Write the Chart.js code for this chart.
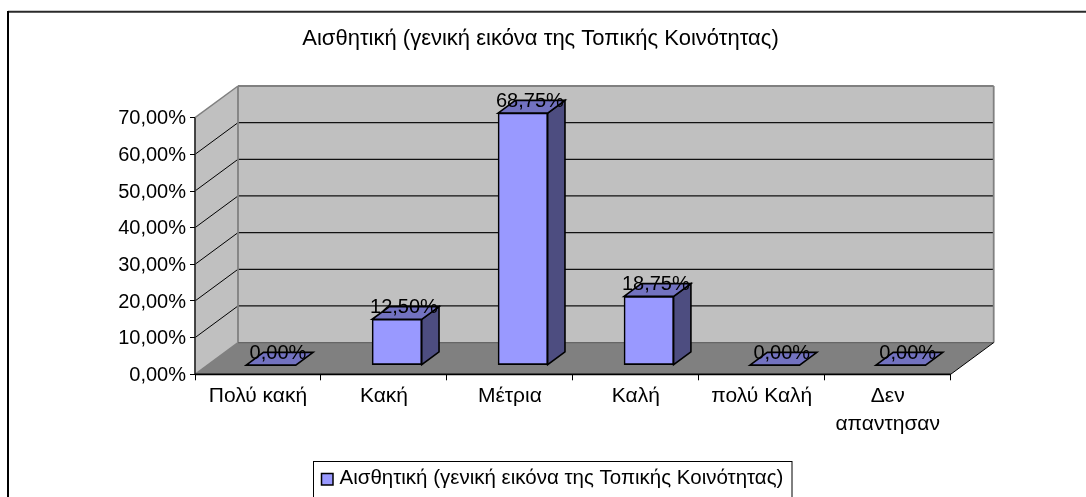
<!DOCTYPE html>
<html><head><meta charset="utf-8">
<style>html,body{margin:0;padding:0;background:#fff;overflow:hidden}#w{position:absolute;left:0;top:0;width:1086px;height:497px}canvas{display:block}</style>
<script src="https://cdn.jsdelivr.net/npm/chart.js@4"></script>
</head><body><div id="w"><canvas id="c" width="1086" height="497"></canvas></div>
<script>
const categories = ["Πολύ κακή","Κακή","Μέτρια","Καλή","πολύ Καλή",["Δεν","απαντησαν"]];
const seriesName = "Αισθητική (γενική εικόνα της Τοπικής Κοινότητας)";
const seriesValues = [0,12.5,68.75,18.75,0,0];
const tickValues = [0,10,20,30,40,50,60,70];
const FONT='"Liberation Sans", Arial, sans-serif';
const DX=43, DY=31.7, BDX=13, BDY=9.2, SDX=17.3, SDY=12.7;
const fmt=v=>v.toFixed(2).replace('.',',')+'%';
function poly(ctx,pts,fill,stroke,lw){ctx.beginPath();pts.forEach((p,i)=>i?ctx.lineTo(p[0],p[1]):ctx.moveTo(p[0],p[1]));ctx.closePath();if(fill){ctx.fillStyle=fill;ctx.fill();}if(stroke){ctx.strokeStyle=stroke;ctx.lineWidth=lw||1;ctx.lineJoin='miter';ctx.stroke();}}
function line(ctx,a,b,c,d,col,lw){ctx.beginPath();ctx.moveTo(a,b);ctx.lineTo(c,d);ctx.strokeStyle=col;ctx.lineWidth=lw||1;ctx.stroke();}
const scene={id:'scene',
 beforeDraw(ch){const c=ch.ctx,{x,y}=ch.scales;const L=x.left,R=x.right,B=y.bottom,T=y.top;
  c.save();
  c.fillStyle='#fff';c.fillRect(0,0,1086,497);
  line(c,8,11.7,1086,11.7,'#2a2a2a',2);line(c,8,11,8,497,'#000',2);
  poly(c,[[L+DX,T-DY],[R+DX,T-DY],[R+DX,B-DY],[L+DX,B-DY]],'#c0c0c0');
  poly(c,[[L,T],[L+DX,T-DY],[L+DX,B-DY],[L,B]],'#c0c0c0');
  poly(c,[[L,B],[L+DX,B-DY],[R+DX,B-DY],[R,B]],'#808080');
  tickValues.forEach(v=>{if(v===0||v===70)return;const p=y.getPixelForValue(v);
    line(c,L,p,L+DX,p-DY,'#000',1);line(c,L+DX,p-DY,R+DX,p-DY,'#111',1.3);});
  line(c,L,T,L+DX,T-DY,'#808080',1.5);
  line(c,L+DX,T-DY,R+DX,T-DY,'#808080',1.8);
  line(c,L+DX,T-DY,L+DX,B-DY,'#808080',1.8);
  line(c,R+DX,T-DY,R+DX,B-DY,'#808080',1.8);
  line(c,L,B,L+DX,B-DY,'#808080',1.5);
  line(c,L+DX,B-DY,R+DX,B-DY,'#666',1.2);
  line(c,R,B,R+DX,B-DY,'#000',1);
  line(c,L,T,L,B,'#333',1.8);line(c,L,B,R,B,'#000',1.8);
  // title
  c.fillStyle='#000';c.textAlign='center';c.textBaseline='alphabetic';c.font='22px '+FONT;
  c.fillText(seriesName,540.5,45);
  // legend
  c.lineWidth=1;c.strokeStyle='#000';c.strokeRect(313.5,461.5,478.5,50);
  c.lineWidth=1.5;c.fillStyle='#9999ff';c.fillRect(321.5,473.5,11.5,11.5);c.strokeRect(321.5,473.5,11.5,11.5);
  c.fillStyle='#000';c.textAlign='left';c.font='20.5px '+FONT;c.fillText(seriesName,339.5,484.3);
  c.restore();
 },
 beforeDatasetsDraw(ch){const c=ch.ctx;c.save();c.translate(BDX,-BDY);
  ch.getDatasetMeta(0).data.forEach(b=>{const l=b.x-b.width/2,r=b.x+b.width/2,t=b.y,bt=b.base;
   if(bt-t>0.5)poly(c,[[r,t],[r+SDX,t-SDY],[r+SDX,bt-SDY],[r,bt]],'#4d4d80','#000',1.6);
   poly(c,[[l,t],[r,t],[r+SDX,t-SDY],[l+SDX,t-SDY]],'#7272c0','#000',1.6);
  });
 },
 afterDatasetsDraw(ch){const c=ch.ctx;
  c.fillStyle='#000';c.textAlign='center';c.textBaseline='alphabetic';c.font='20px '+FONT;
  ch.getDatasetMeta(0).data.forEach((b,i)=>{c.fillText(fmt(seriesValues[i]),b.x+7,b.y-6);});
  c.restore();
 }
};
new Chart(document.getElementById('c'),{
 type:'bar',
 data:{labels:categories,datasets:[{label:seriesName,data:seriesValues,backgroundColor:'#9999ff',borderColor:'#000',borderWidth:1.6,borderSkipped:false,barThickness:49.6}]},
 plugins:[scene],
 options:{responsive:false,animation:false,
  layout:{padding:{left:0,top:117.7,right:135.3,bottom:0}},
  plugins:{title:{display:false},tooltip:{enabled:false},legend:{display:false}},
  scales:{
   x:{position:'bottom',offset:true,afterFit(s){s.height=122.7;},
      grid:{display:true,drawOnChartArea:false,color:'#000',lineWidth:1,tickLength:6,offset:true},border:{display:false},
      ticks:{font:{family:FONT,size:21,lineHeight:1.33},color:'#000',maxRotation:0,minRotation:0,autoSkip:false,padding:2}},
   y:{min:0,max:70,afterFit(s){s.width=195;},afterBuildTicks(s){s.ticks=tickValues.map(v=>({value:v}));},
      grid:{drawOnChartArea:false,color:'#000',lineWidth:1,tickLength:5},border:{display:false},
      ticks:{font:{family:FONT,size:20},color:'#000',padding:4,labelOffset:1,callback:v=>fmt(v)}}
  }
 }
});
</script>
</body></html>
